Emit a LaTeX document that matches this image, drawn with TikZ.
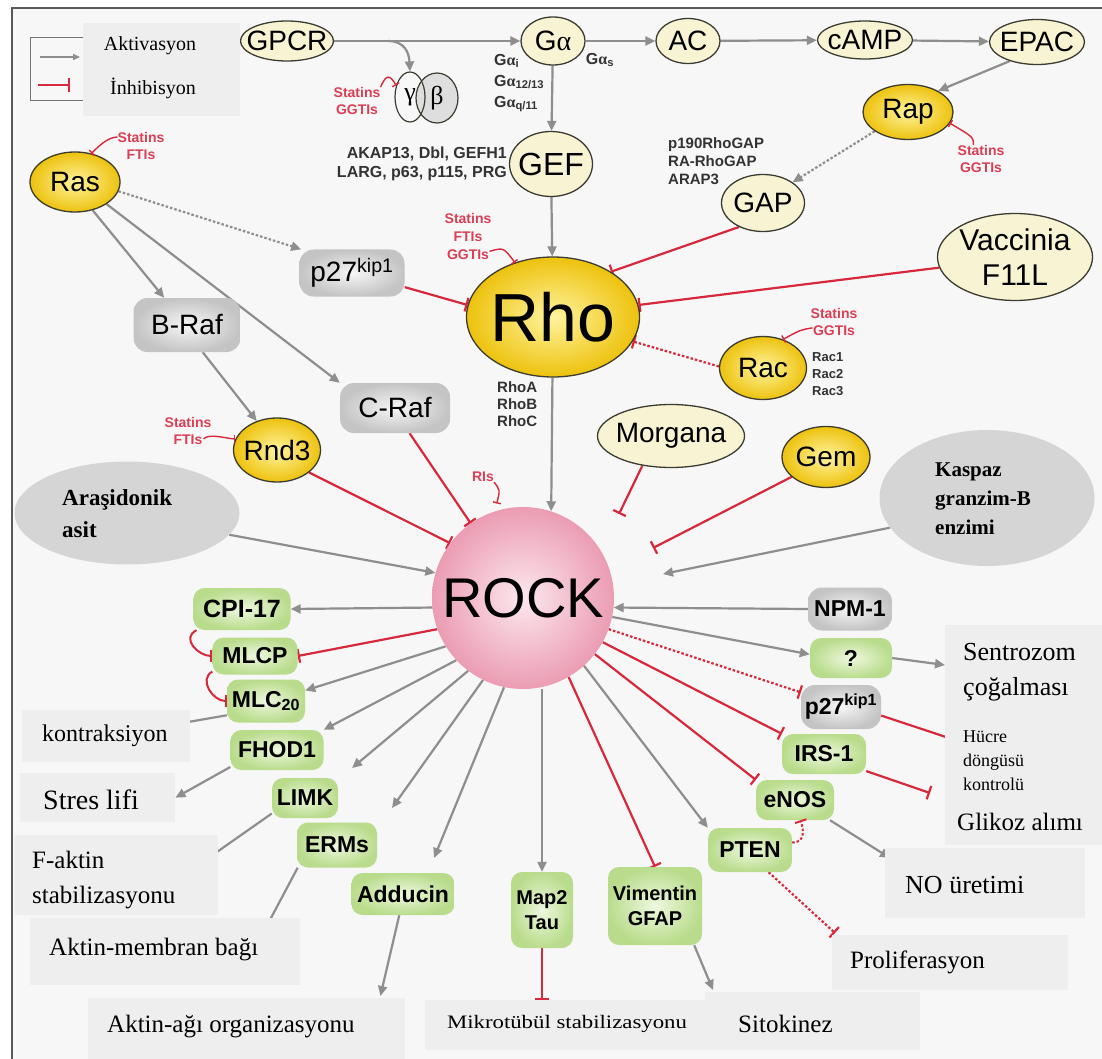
\documentclass[tikz,border=0pt]{standalone}
\usepackage{fontspec}
\setmainfont{Liberation Serif}
\setsansfont{Liberation Sans}
\usetikzlibrary{arrows.meta,shapes.geometric,calc}
\pgfdeclarelayer{back}
\pgfdeclarelayer{lines}
\pgfsetlayers{back,lines,main}
\definecolor{bgc}{HTML}{F7F7F7}
\definecolor{boxc}{HTML}{EEEEEE}
\definecolor{greyc}{HTML}{8E8E8E}
\definecolor{redc}{HTML}{D8283C}
\definecolor{redt}{HTML}{DB3F55}
\definecolor{olc}{HTML}{3C3C32}
\definecolor{palef}{HTML}{F8F3D3}
\definecolor{goldin}{HTML}{FFF49E}
\definecolor{goldout}{HTML}{EDC20E}
\definecolor{grin}{HTML}{EEF8DF}
\definecolor{grout}{HTML}{B9DC8C}
\definecolor{gyin}{HTML}{F6F6F6}
\definecolor{gyout}{HTML}{C4C4C4}
\definecolor{pkin}{HTML}{FCE8EE}
\definecolor{pkout}{HTML}{EB9CB3}
\definecolor{ellg}{HTML}{D5D5D5}
\newcommand\fs[2]{\fontsize{#1}{#2}\selectfont}
\newcommand\mb[1]{\makebox[0pt]{#1}}
\begin{document}
\begin{tikzpicture}[x=1pt,y=-1pt,
 pale/.style={ellipse, draw=olc, line width=1.3pt, fill=palef, inner sep=0pt, font=\sffamily\fs{28}{32}},
 gold/.style={ellipse, draw=olc, line width=1.3pt, inner color=goldin, outer color=goldout, inner sep=0pt, font=\sffamily\fs{28}{32}},
 grn/.style={rectangle, rounded corners=11pt, inner color=grin, outer color=grout, inner sep=0pt, align=center, font=\sffamily\bfseries\fs{23}{25}},
 gry/.style={rectangle, rounded corners=14pt, inner color=gyin, outer color=gyout, inner sep=0pt, font=\sffamily\fs{28}{32}},
 gell/.style={ellipse, fill=ellg, inner sep=0pt},
 sl/.style={font=\sffamily\bfseries\fs{14}{17}, text=redt, align=center, inner sep=0pt},
 bl/.style={font=\sffamily\bfseries\fs{15}{18}, text=black!80, align=left, inner sep=0pt},
 trb/.style={fill=boxc, inner sep=0pt, anchor=north west},
 trt/.style={inner sep=0pt, text=black},
 act/.style={draw=greyc, line width=2.2pt, -{Triangle[length=10pt,width=9pt]}},
 actd/.style={act, dash pattern=on 2.5pt off 2pt},
 inh/.style={draw=redc, line width=2.2pt, -{Bar[width=14pt,line width=2.2pt]}},
 inhd/.style={inh, dash pattern=on 2.5pt off 2pt},
 inhs/.style={draw=redc, line width=1.4pt, -{Bar[width=8pt,line width=1.4pt]}},
 inh2/.style={draw=redc, line width=2pt, -{Bar[width=12pt,line width=2pt]}},
]
\useasboundingbox (0,0) rectangle (1102,1059);
\begin{pgfonlayer}{back}
\fill[white] (0,0) rectangle (1102,1059);
\fill[bgc] (12,8) rectangle (1102,1059);
\draw[black!65, line width=2pt] (12,1059) -- (12,8) -- (1102,8);
\end{pgfonlayer}

% legend frame
\node[draw=black!55, line width=1.3pt, minimum width=170pt, minimum height=63pt, anchor=north west, inner sep=0pt] (legbox) at (30,37) {};
\coordinate (la1) at (40,57);
\coordinate (la2) at (80,57);
\coordinate (li1) at (38,85);
\coordinate (li2) at (70,85);
\draw[draw=greyc, line width=1.5pt, -{Triangle[length=7pt,width=6pt]}] (la1) -- (la2);
\draw[draw=redc, line width=1.8pt, -{Bar[width=14pt,line width=1.8pt]}] (li1) -- (li2);

% top row
\node[pale, minimum width=93pt, minimum height=40pt] (GPCR) at (287,41) {\mb{GPCR}};
\node[pale, minimum width=64pt, minimum height=48pt] (Ga) at (553,41) {\mb{G{\rmfamily α}}};
\node[pale, minimum width=64pt, minimum height=45pt] (AC) at (688,41) {\mb{AC}};
\node[pale, minimum width=95pt, minimum height=38pt] (cAMP) at (865,40) {\mb{cAMP}};
\node[pale, minimum width=95pt, minimum height=45pt] (EPAC) at (1037,42) {\mb{EPAC}};
\node[gold, minimum width=90pt, minimum height=55pt] (Rap) at (908,112) {\mb{Rap}};
\node[ellipse, draw=olc, line width=1.2pt, fill=black!13, minimum width=42pt, minimum height=50pt, inner sep=0pt, font=\rmfamily\fs{26}{28}] (beta) at (437,98) {\mb{β}};
\node[ellipse, draw=olc, line width=1.2pt, minimum width=30pt, minimum height=50pt, inner sep=0pt, font=\rmfamily\fs{26}{28}] (gam) at (410,97) {\mb{γ}};
\node[pale, minimum width=83pt, minimum height=65pt, font=\sffamily\fs{32}{34}] (GEF) at (551,164) {\mb{GEF}};
\node[pale, minimum width=83pt, minimum height=57pt] (GAP) at (763,203) {\mb{GAP}};
\node[gold, minimum width=173pt, minimum height=120pt, font=\sffamily\fs{68}{70}] (Rho) at (553,317) {\mb{Rho}};
\node[pale, minimum width=155pt, minimum height=87pt, inner xsep=-3pt, inner ysep=-8pt, align=center, font=\sffamily\fs{30}{35}] (Vac) at (1015,257) {Vaccinia\\F11L};
\node[gold, minimum width=90pt, minimum height=60pt] (Ras) at (75,182) {\mb{Ras}};
\node[gry, minimum width=105pt, minimum height=47pt] (p27a) at (352,273) {p27\textsuperscript{kip1}};
\node[gry, minimum width=107pt, minimum height=54pt] (BRaf) at (187,325) {B-Raf};
\node[gry, minimum width=110pt, minimum height=50pt] (CRaf) at (395,408) {C-Raf};
\node[gold, minimum width=87pt, minimum height=64pt] (Rnd3) at (277,450) {\mb{Rnd3}};
\node[gell, minimum width=225pt, minimum height=103pt] (Ara) at (127,513) {};
\node[gold, minimum width=87pt, minimum height=63pt] (Rac) at (763,368) {\mb{Rac}};
\node[pale, minimum width=147pt, minimum height=63pt] (Morg) at (671,436) {\mb{Morgana}};
\node[gold, minimum width=88pt, minimum height=61pt] (Gem) at (826,457) {\mb{Gem}};
\node[gell, minimum width=215pt, minimum height=136pt] (Kasp) at (987,498) {};
\node[circle, inner color=pkin, outer color=pkout, minimum size=182pt, inner sep=0pt, font=\sffamily\fs{56}{60}] (ROCK) at (523,598) {ROCK};

% green / grey boxes
\node[grn, minimum width=97pt, minimum height=42pt, font=\sffamily\bfseries\fs{25}{27}] (CPI) at (242,609) {CPI-17};
\node[grn, minimum width=85pt, minimum height=37pt] (MLCP) at (255,656) {MLCP};
\node[grn, minimum width=78pt, minimum height=43pt] (MLC) at (266,701) {MLC\textsubscript{20}};
\node[grn, minimum width=93pt, minimum height=40pt] (FHOD) at (277,750) {FHOD1};
\node[grn, minimum width=66pt, minimum height=40pt] (LIMK) at (305,798) {LIMK};
\node[grn, minimum width=80pt, minimum height=45pt] (ERMs) at (337,845) {ERMs};
\node[grn, minimum width=103pt, minimum height=42pt] (Add) at (403,894) {Adducin};
\node[grn, minimum width=62pt, minimum height=76pt, font=\sffamily\bfseries\fs{20}{25}] (Map) at (542,910) {Map2\\Tau};
\node[grn, minimum width=94pt, minimum height=78pt, font=\sffamily\bfseries\fs{20}{25}] (Vim) at (655,906) {Vimentin\\GFAP};
\node[grn, minimum width=84pt, minimum height=44pt] (PTEN) at (750,850) {PTEN};
\node[grn, minimum width=78pt, minimum height=40pt] (eNOS) at (795,800) {eNOS};
\node[grn, minimum width=84pt, minimum height=40pt] (IRS) at (824,754) {IRS-1};
\node[grn, minimum width=82pt, minimum height=40pt] (Q) at (851,658) {?};
\node[gry, minimum width=84pt, minimum height=43pt, font=\sffamily\bfseries\fs{23}{25}] (NPM) at (850,609) {NPM-1};
\node[gry, minimum width=80pt, minimum height=44pt, font=\sffamily\bfseries\fs{23}{25}] (p27b) at (841,707) {p27\textsuperscript{kip1}};

% small labels
\node[sl] (sRas) at (141,146) {Statins\\FTIs};
\node[sl] (sGam) at (357,101) {Statins\\GGTIs};
\node[bl, anchor=west, font=\sffamily\bfseries\fs{16}{21}] (GaL) at (494,83) {G{\rmfamily\bfseries α}\textsubscript{i}\\G{\rmfamily\bfseries α}\textsubscript{12/13}\\G{\rmfamily\bfseries α}\textsubscript{q/11}};
\node[bl, font=\sffamily\bfseries\fs{16}{18}] (GaS) at (600,60) {G{\rmfamily\bfseries α}\textsubscript{s}};
\node[bl, anchor=east, align=right, font=\sffamily\bfseries\fs{16}{19}] (GEFL) at (507,164) {AKAP13, Dbl, GEFH1\\LARG, p63, p115, PRG};
\node[bl, anchor=west, font=\sffamily\bfseries\fs{15}{18}] (GAPL) at (668,161) {p190RhoGAP\\RA-RhoGAP\\ARAP3};
\node[sl] (sRap) at (981,159) {Statins\\GGTIs};
\node[sl, font=\sffamily\bfseries\fs{14}{18}] (sRho) at (468,236) {Statins\\FTIs\\GGTIs};
\node[sl] (sRac) at (834,322) {Statins\\GGTIs};
\node[bl, anchor=west, font=\sffamily\bfseries\fs{13}{17}] (RacL) at (812,374) {Rac1\\Rac2\\Rac3};
\node[bl, anchor=west, font=\sffamily\bfseries\fs{15}{17}] (RhoL) at (497,404) {RhoA\\RhoB\\RhoC};
\node[sl] (sRnd) at (188,431) {Statins\\FTIs};
\node[sl] (RIs) at (483,477) {RIs};

% Turkish label boxes
\node[trb, minimum width=157pt, minimum height=93pt] (legl) at (83,23) {};
\node[trb, minimum width=168pt, minimum height=52pt] (kon) at (22,710) {};
\node[trb, minimum width=155pt, minimum height=49pt] (str) at (20,773) {};
\node[trb, minimum width=203pt, minimum height=80pt] (fak) at (15,835) {};
\node[trb, minimum width=270pt, minimum height=67pt] (amem) at (30,918) {};
\node[trb, minimum width=317pt, minimum height=62pt] (aag) at (88,998) {};
\node[trb, minimum width=280pt, minimum height=50pt] (mik) at (425,1000) {};
\node[trb, minimum width=215pt, minimum height=58pt] (sito) at (705,992) {};
\node[trb, minimum width=236pt, minimum height=55pt] (prol) at (832,935) {};
\node[trb, minimum width=200pt, minimum height=70pt] (no) at (885,848) {};
\node[trb, minimum width=157pt, minimum height=220pt] (sen) at (945,625) {};

\node[trt, font=\rmfamily\fs{20}{22}] (tAkt) at (150,46) {Aktivasyon};
\node[trt, font=\rmfamily\fs{20}{22}] (tInh) at (153,88) {İnhibisyon};
\node[trt, anchor=west, font=\rmfamily\fs{24}{26}] (tKon) at (42,736) {kontraksiyon};
\node[trt, anchor=west, font=\rmfamily\fs{28}{30}] (tStr) at (43,800) {Stres lifi};
\node[trt, anchor=west, align=left, font=\rmfamily\fs{25}{35}] (tFak) at (32,880) {F-aktin\\stabilizasyonu};
\node[trt, anchor=west, font=\rmfamily\fs{25}{27}] (tAmem) at (49,950) {Aktin-membran bağı};
\node[trt, anchor=west, font=\rmfamily\fs{25}{27}] (tAag) at (107,1027) {Aktin-ağı organizasyonu};
\node[trt, font=\rmfamily\fs{19}{22}] (tMik) at (567,1024) {\scalebox{1.2}[1]{Mikrotübül stabilizasyonu}};
\node[trt, anchor=west, font=\rmfamily\fs{25}{27}] (tSito) at (738,1024) {Sitokinez};
\node[trt, anchor=west, font=\rmfamily\fs{25}{27}] (tProl) at (850,962) {Proliferasyon};
\node[trt, anchor=west, font=\rmfamily\fs{26}{28}] (tNO) at (905,885) {NO üretimi};
\node[trt, anchor=west, align=left, font=\rmfamily\fs{26}{35}] (tSen) at (963,672) {Sentrozom\\çoğalması};
\node[trt, anchor=west, align=left, font=\rmfamily\fs{18}{24}] (tHuc) at (963,761) {Hücre\\döngüsü\\kontrolü};
\node[trt, anchor=west, font=\rmfamily\fs{25}{27}] (tGli) at (957,822) {Glikoz alımı};
\node[trt, anchor=west, align=left, font=\rmfamily\bfseries\fs{23}{32}] (tAra) at (62,514) {Araşidonik\\asit};
\node[trt, anchor=west, align=left, font=\rmfamily\bfseries\fs{21}{29}] (tKas) at (935,499) {Kaspaz\\granzim-B\\enzimi};

% small inhibitor curves
\draw[inhs] ($(sRas.west)+(0,-9)$) .. controls +(-10,0) and +(6,-6) .. (Ras.60);
\draw[inhs] (sGam.north east) .. controls +(6,-14) and +(-6,-10) .. (gam.140);
\draw[inhs] ($(sRap.north west)+(16,0)$) .. controls +(0,-8) .. (Rap.-15);
\draw[inhs] ($(sRho.south east)+(-2,-8)$) .. controls +(14,-4) .. (Rho.125);
\draw[inhs] ($(sRac.south west)+(2,-8)$) .. controls +(-12,2) .. (Rac.55);
\draw[inhs] ($(sRnd.south east)+(-8,-6)$) .. controls +(6,-6) and +(-8,0) .. (Rnd3.165);
\draw[inhs, shorten >=8pt] (RIs.south east) .. controls +(6,8) .. (ROCK.108);
\draw[inh2] (CPI.205) .. controls +(-16,8) and +(-14,0) .. (MLCP.west);
\draw[inh2] (MLCP.200) .. controls +(-14,8) and +(-14,0) .. (MLC.west);
\draw[inh2, dash pattern=on 2.5pt off 2pt] (PTEN.10) .. controls +(12,0) and +(4,12) .. (eNOS.-75);

\begin{pgfonlayer}{lines}
\draw[act] (GPCR) -- (Ga);
\draw[act] (Ga) -- (AC);
\draw[act] (AC) -- (cAMP);
\draw[act] (cAMP) -- (EPAC);
\coordinate (brc) at (388,41);
\draw[act] (brc) .. controls (404,41) and (409,52) .. (gam.north);
\draw[act] (EPAC.215) -- (Rap.35);
\draw[act] (Ga) -- (GEF);
\draw[act] (GEF) -- (Rho);
\draw[actd] (Rap.210) -- (GAP.35);
\draw[inh] (GAP.225) -- (Rho.38);
\draw[inh] (Vac.188) -- (Rho.8);
\draw[inhd] (Rac.178) -- (Rho.-17);
\draw[inh] (p27a.-15) -- (Rho.172);
\draw[actd] (Ras.-12) -- (p27a.155);
\draw[act] (Ras.-58) -- (BRaf.130);
\draw[act] (Ras.-35) -- (CRaf.north west);
\draw[act] (BRaf.-60) -- (Rnd3.125);
\draw[act] (Rho) -- (ROCK.72);
\draw[inh] (CRaf.-60) -- (ROCK.125);
\draw[inh] (Rnd3.-35) -- (ROCK.143);
\draw[act] (Ara.-12) -- (ROCK.164);
\coordinate (morE) at (619,514);
\draw[inh] (Morg.-134) -- (morE);
\coordinate (gemE) at (653,548);
\draw[inh] (Gem.-150) -- (gemE);
\coordinate (kasE) at (663,574);
\draw[act] (Kasp.-163) -- (kasE);
\draw[act] (NPM.west) -- (ROCK.-6);
% left fan
\draw[act] (ROCK.186) -- (CPI.east);
\draw[inh] (ROCK.200) -- (MLCP.east);
\draw[act] (ROCK.212) -- (MLC.15);
\draw[act] (ROCK.223) -- (FHOD.north east);
\coordinate (limkE) at (352,768);
\draw[act] (ROCK.233) -- (limkE);
\coordinate (ermsE) at (392,808);
\draw[act] (ROCK.244) -- (ermsE);
\coordinate (addE) at (434,858);
\draw[act] (ROCK.258) -- (addE);
\draw[act] (Map.north |- ROCK.south) -- (Map.north);
% right fan
\draw[inh] (ROCK.-60) -- (Vim.north);
\draw[act] (ROCK.-48) -- (PTEN.north west);
\draw[inh] (ROCK.-38) -- (eNOS.north west);
\draw[inh] (ROCK.-29) -- (IRS.north west);
\draw[inhd] (ROCK.-20) -- (p27b.160);
\draw[act] (ROCK.-12) -- (Q.175);
% outputs
\draw[act] (MLC.200) -- (kon.center);
\draw[act] (FHOD.200) -- (str.east);
\draw[act] (LIMK.205) -- ($(fak.north east)+(-20,30)$);
\draw[act] (ERMs.210) -- ($(amem.north east)+(-40,20)$);
\draw[act] (Add.-100) -- ($(aag.north east)+(-25,-2)$);
\draw[inh] (Map.south) -- (Map.south |- mik.north);
\draw[act] (Vim.-45) -- ($(sito.north west)+(8,-2)$);
\draw[act] (Q.east) -- ($(sen.north west)+(0,40)$);
\draw[inh] (p27b.-12) -- ($(sen.north west)+(10,115)$);
\draw[inh] (IRS.-22) -- ($(sen.north west)+(-15,168)$);
\draw[act] (eNOS.-30) -- ($(no.north west)+(5,10)$);
\draw[inhd] (PTEN.-50) -- ($(prol.north west)+(3,-2)$);
\end{pgfonlayer}
\end{tikzpicture}
\end{document}
